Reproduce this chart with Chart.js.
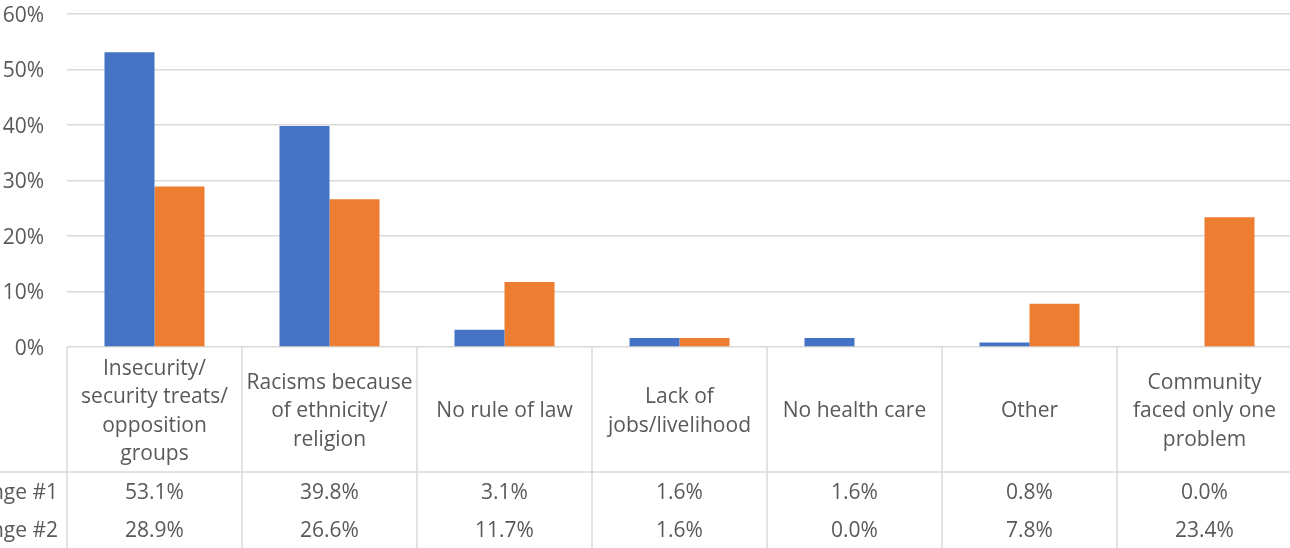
<!DOCTYPE html>
<html>
<head>
<meta charset="utf-8">
<script src="https://cdn.jsdelivr.net/npm/chart.js@4"></script>
<style>
html,body{margin:0;padding:0;background:#fff;overflow:hidden;width:1290px;height:548px;}
#wrap{position:absolute;left:0;top:0;width:1292px;height:548px;}
</style>
</head>
<body>
<div id="wrap"><canvas id="c" width="1292" height="548"></canvas></div>
<script>
const categories = [
  ["Insecurity/", "security treats/", "opposition", "groups"],
  ["Racisms because", "of ethnicity/", "religion"],
  ["No rule of law"],
  ["Lack of", "jobs/livelihood"],
  ["No health care"],
  ["Other"],
  ["Community", "faced only one", "problem"]
];
const seriesNames = ["Challenge #1", "Challenge #2"];
const series1 = [53.1, 39.8, 3.1, 1.6, 1.6, 0.8, 0.0];
const series2 = [28.9, 26.6, 11.7, 1.6, 0.0, 7.8, 23.4];
const yTicks = [0, 10, 20, 30, 40, 50, 60];
const colors = ["#4472C4", "#ED7D31"];

const FONT = "Open Sans";
const FSIZE = 21;
const TEXT = "#595959";
const GRID = "#d9d9d9";

const tablePlugin = {
  id: "dataTable",
  afterDraw(chart) {
    const ctx = chart.ctx;
    const area = chart.chartArea;
    const xs = chart.scales.x;
    const n = categories.length;
    const catW = (area.right - area.left) / n;
    const top = area.bottom;
    const headerBottom = top + 125;
    const bottom = chart.height;
    ctx.save();
    ctx.strokeStyle = GRID;
    ctx.lineWidth = 1.5;
    ctx.beginPath();
    ctx.moveTo(0, headerBottom);
    ctx.lineTo(area.right, headerBottom);
    ctx.stroke();
    for (let i = 0; i <= n; i++) {
      const x = area.left + i * catW;
      ctx.beginPath();
      ctx.moveTo(x, top);
      ctx.lineTo(x, bottom);
      ctx.stroke();
    }
    ctx.fillStyle = TEXT;
    ctx.font = FSIZE + "px '" + FONT + "'";
    ctx.textAlign = "center";
    ctx.textBaseline = "middle";
    const lh = 28.5;
    const midH = (top + headerBottom) / 2 + 2;
    categories.forEach((lines, i) => {
      const cx = xs.getPixelForValue(i);
      const y0 = midH - (lines.length - 1) * lh / 2;
      lines.forEach((t, j) => ctx.fillText(t, cx, y0 + j * lh));
    });
    const rowY = [headerBottom + 21, headerBottom + 59];
    [series1, series2].forEach((vals, r) => {
      vals.forEach((v, i) => {
        ctx.fillText(v.toFixed(1) + "%", xs.getPixelForValue(i), rowY[r]);
      });
      ctx.textAlign = "right";
      ctx.fillText(seriesNames[r], area.left - 9, rowY[r]);
      ctx.textAlign = "center";
    });
    ctx.restore();
  }
};

new Chart(document.getElementById("c"), {
  type: "bar",
  data: {
    labels: categories.map(l => l.join(" ")),
    datasets: [
      { label: seriesNames[0], data: series1, backgroundColor: colors[0] },
      { label: seriesNames[1], data: series2, backgroundColor: colors[1] }
    ]
  },
  options: {
    responsive: false,
    animation: false,
    devicePixelRatio: 1,
    layout: { padding: { top: 14, bottom: 201, left: 0, right: 0 } },
    plugins: { legend: { display: false }, tooltip: { enabled: false } },
    datasets: { bar: { categoryPercentage: 100/175, barPercentage: 1 } },
    scales: {
      x: { display: false },
      y: {
        min: 0, max: 60,
        afterFit(s) { s.width = 67; s.paddingTop = 0; s.paddingBottom = 0; },
        afterBuildTicks(s) { s.ticks = yTicks.map(v => ({ value: v })); },
        ticks: {
          padding: 23,
          labelOffset: 2,
          color: TEXT,
          font: { family: FONT, size: FSIZE },
          callback: v => v + "%"
        },
        grid: { color: GRID, lineWidth: 1.5, drawTicks: false },
        border: { display: false }
      }
    }
  },
  plugins: [tablePlugin]
});
</script>
</body>
</html>
